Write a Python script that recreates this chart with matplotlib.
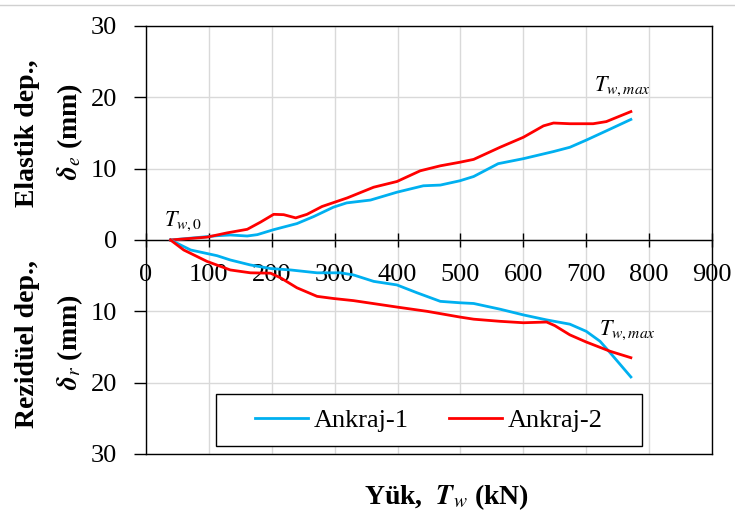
import matplotlib
matplotlib.use("Agg")
import matplotlib.pyplot as plt
from matplotlib.patches import Rectangle
from matplotlib.lines import Line2D

plt.rcParams['font.family'] = ['Liberation Serif', 'DejaVu Serif']
plt.rcParams['mathtext.fontset'] = 'stix'

# ---- data (load in kN, deformation in mm) ----
elastic_a1_x = [39, 113, 134, 161, 177, 203, 240, 267, 298, 319, 357, 399, 441, 468, 499, 521, 560, 600, 648, 674, 700, 732, 771]
elastic_a1_y = [0, 0.6, 0.7, 0.56, 0.75, 1.45, 2.3, 3.3, 4.6, 5.2, 5.6, 6.7, 7.6, 7.7, 8.3, 8.9, 10.7, 11.4, 12.4, 13.0, 14.0, 15.3, 16.9]

elastic_a2_x = [39, 97, 129, 161, 182, 203, 219, 238, 256, 280, 320, 362, 399, 436, 468, 499, 521, 563, 600, 632, 648, 674, 711, 732, 771]
elastic_a2_y = [0, 0.4, 1.0, 1.5, 2.5, 3.6, 3.55, 3.1, 3.6, 4.7, 5.9, 7.4, 8.2, 9.7, 10.4, 10.9, 11.3, 13.0, 14.4, 16.0, 16.4, 16.3, 16.3, 16.6, 18.0]

resid_a1_x = [39, 71, 113, 134, 166, 198, 230, 272, 309, 330, 362, 399, 431, 468, 499, 521, 563, 600, 637, 674, 700, 722, 738, 771]
resid_a1_y = [0, 1.4, 2.2, 2.8, 3.5, 4.0, 4.2, 4.6, 4.6, 4.9, 5.8, 6.3, 7.4, 8.6, 8.8, 8.9, 9.7, 10.5, 11.2, 11.8, 12.8, 14.2, 15.8, 19.2]

resid_a2_x = [39, 60, 97, 134, 166, 198, 214, 240, 272, 298, 330, 399, 447, 499, 521, 563, 600, 637, 650, 674, 700, 738, 771]
resid_a2_y = [0, 1.4, 3.0, 4.2, 4.6, 4.65, 5.3, 6.7, 7.9, 8.2, 8.5, 9.4, 10.0, 10.8, 11.1, 11.4, 11.6, 11.5, 12.0, 13.3, 14.3, 15.6, 16.5]

series_names = ['Ankraj-1', 'Ankraj-2']
series_colors = ['#00B0F0', '#FF0000']
x_ticks = [0, 100, 200, 300, 400, 500, 600, 700, 800, 900]
y_ticks = [30, 20, 10, 0, -10, -20, -30]

fig = plt.figure(figsize=(7.35, 5.16), dpi=100)
ax = fig.add_axes([146/735, 1-454/516, 566/735, 428/516])

lw = 2.0
ax.plot(elastic_a1_x, elastic_a1_y, color=series_colors[0], lw=lw, label=series_names[0], zorder=3)
ax.plot(elastic_a2_x, elastic_a2_y, color=series_colors[1], lw=lw, label=series_names[1], zorder=3)
ax.plot(resid_a1_x, [-v for v in resid_a1_y], color=series_colors[0], lw=lw, zorder=3)
ax.plot(resid_a2_x, [-v for v in resid_a2_y], color=series_colors[1], lw=lw, zorder=3)

ax.set_xlim(0, 900)
ax.set_ylim(-30, 30)
ax.set_xticks(x_ticks)
ax.set_yticks(y_ticks)
ax.set_yticklabels([str(abs(v)) for v in y_ticks])
ax.grid(True, color='#D9D9D9', lw=1.0, zorder=0)
ax.set_axisbelow(True)

for s in ['top', 'left', 'right']:
    ax.spines[s].set_color('black')
    ax.spines[s].set_linewidth(1.0)
ax.spines['bottom'].set_position(('data', 0))
ax.spines['bottom'].set_color('black')
ax.spines['bottom'].set_linewidth(1.0)
ax.plot([0, 1], [0, 0], transform=ax.transAxes, color='black', lw=1.0, clip_on=False, zorder=5)

ax.tick_params(axis='x', direction='inout', length=10, width=1, pad=12, labelsize=19)
ax.tick_params(axis='y', direction='out', length=9, width=1, pad=12, labelsize=19)

# legend
ax.add_patch(Rectangle((0.1237, 0.0187), 0.876-0.1237, 0.140-0.0187, transform=ax.transAxes,
                       facecolor='white', edgecolor='black', lw=1.0, zorder=6))
leg = ax.legend(loc='center', bbox_to_anchor=(0.5, 0.0187+(0.140-0.0187)/2), ncol=2, frameon=False,
                fontsize=19, handlelength=2.0, handletextpad=0.25, columnspacing=1.5)
leg.set_zorder(7)

# annotations
ax.text(59, 2.6, r'$T_{w,0}$', fontsize=16, ha='center', va='center')
ax.text(758, 21.6, r'$T_{w,max}$', fontsize=16, ha='center', va='center')
ax.text(766, -12.6, r'$T_{w,max}$', fontsize=16, ha='center', va='center')

# axis titles
fig.text(28/735, 1-133/516, 'Elastik dep.,', rotation=90, fontsize=20, fontweight='bold', ha='center', va='center')
fig.text(70/735, 1-132/516, r'$\boldsymbol{\delta}_{\mathit{e}}$ (mm)', rotation=90, fontsize=20, fontweight='bold', ha='center', va='center')
fig.text(28/735, 1-344/516, 'Rezidüel dep.,', rotation=90, fontsize=20, fontweight='bold', ha='center', va='center')
fig.text(70/735, 1-342/516, r'$\boldsymbol{\delta}_{\mathit{r}}$ (mm)', rotation=90, fontsize=20, fontweight='bold', ha='center', va='center')
fig.text(447/735, 1-497/516, r'Yük,  $\mathbfit{T}_{\mathit{w}}$ (kN)', fontsize=20, fontweight='bold', ha='center', va='center')

fig.add_artist(Line2D([0, 1], [1-5/516, 1-5/516], color='#D0D0D0', lw=1.0))

fig.savefig('out.png', dpi=100)
